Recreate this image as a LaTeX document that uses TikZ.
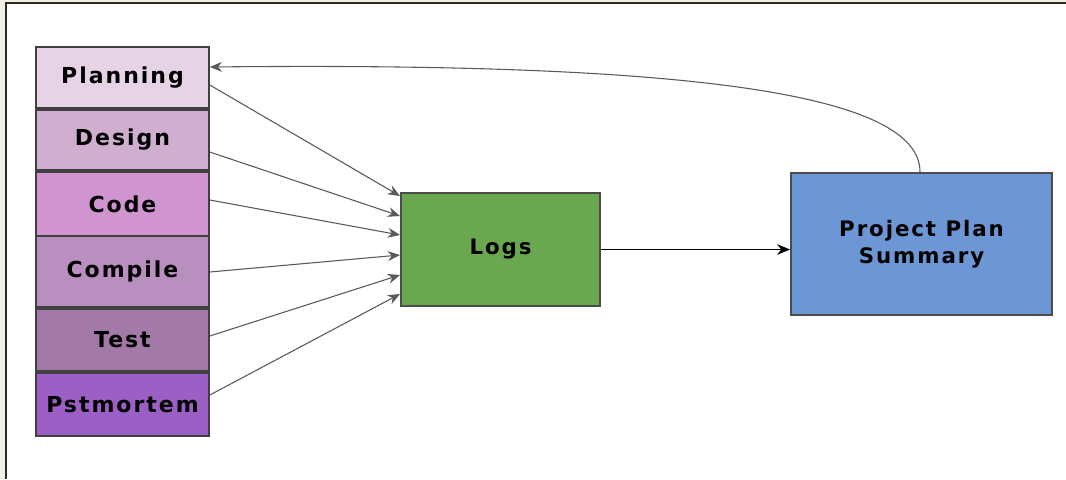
\documentclass[tikz,border=0pt]{standalone}
\usepackage{fontspec}
\setmainfont{DejaVu Sans}
\newfontfamily\boxfont{DejaVu Sans}[LetterSpace=9]
\usetikzlibrary{arrows.meta,positioning,calc}
\definecolor{planc}{HTML}{E6D3E6}
\definecolor{desc}{HTML}{D0AED0}
\definecolor{codec}{HTML}{D094D0}
\definecolor{compc}{HTML}{B98FBF}
\definecolor{testc}{HTML}{A379A8}
\definecolor{postc}{HTML}{9B5FC6}
\definecolor{logc}{HTML}{6AA84F}
\definecolor{ppsc}{HTML}{6D96D4}
\definecolor{framec}{HTML}{2E2C22}
\definecolor{outc}{HTML}{F3F0E4}
\tikzset{
    stage/.style={draw=black!75,line width=1.2pt,minimum width=129.75pt,inner sep=0pt,font=\boxfont\bfseries\fontsize{16.5}{19}\selectfont},
    box/.style={draw=black!70,line width=1.5pt,align=center,inner sep=0pt,font=\boxfont\bfseries\fontsize{16}{20}\selectfont},
    feed/.style={-{Stealth[length=3.2mm,width=2.6mm]},black!65,line width=0.8pt},
    arrow/.style={-{Stealth[length=3.4mm,width=2.8mm]},black,line width=1.2pt}
}
\begin{document}
\begin{tikzpicture}[x=0.75pt,y=-0.75pt]
    \useasboundingbox (0,0) rectangle (1066,479);
    \fill[outc] (0,0) rectangle (1066,479);
    \fill[white] (6,3) rectangle (1066,479);
    \draw[framec,line width=2pt] (6,479) -- (6,3) -- (1066,3);
    % phases of the process
    \node[stage,fill=planc,minimum height=45.75pt] (plan) at (122.5,77.5) {Planning};
    \node[stage,fill=desc,minimum height=45pt] (design) at (122.5,140) {Design};
    \node[stage,fill=codec,minimum height=48pt] (code) at (122.5,204) {Code};
    \node[stage,fill=compc,minimum height=53.25pt] (compile) at (122.5,271.5) {Compile};
    \node[stage,fill=testc,minimum height=46.5pt] (test) at (122.5,340) {Test};
    \node[stage,fill=postc,minimum height=47.25pt] (post) at (122.5,404.5) {Pstmortem};
    % logs and summary
    \node[box,fill=logc,minimum width=149.25pt,minimum height=84.75pt] (logs) at (500.5,249.5) {Logs};
    \node[box,fill=ppsc,minimum width=195.75pt,minimum height=106.5pt] (pps) at (921.5,244) {Project Plan\\Summary};
    \foreach \n/\sy/\ty in {plan/85/196,design/152/216,code/200/235,compile/272/255,test/336/275,post/395/294}
        \draw[feed] (\n.east |- 0,\sy) -- (logs.west |- 0,\ty);
    \draw[arrow] (logs.east) -- (logs.east -| pps.west);
    \draw[feed] (pps.north -| 920,0) .. controls (920,95) and (700,62) .. (plan.east |- 0,67);
\end{tikzpicture}
\end{document}
